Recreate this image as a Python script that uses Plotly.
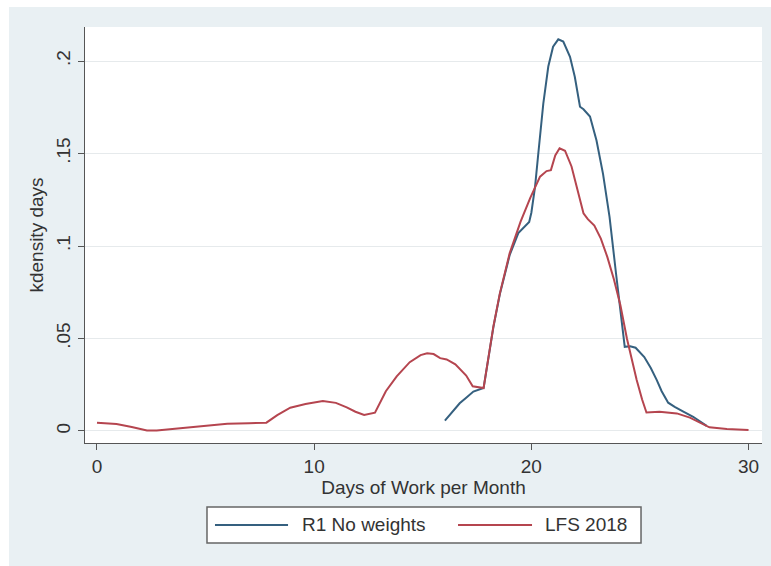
import plotly.graph_objects as go

# Kernel density of days worked per month, two samples
lfs_days = [0, 0.9, 1.6, 2.3, 2.75, 3.4, 4.0, 5.0, 6.0, 7.0, 7.8, 8.3, 8.9, 9.6,
            10.4, 11.0, 11.5, 11.9, 12.3, 12.8, 13.3, 13.8, 14.4, 14.9, 15.2, 15.5,
            15.8, 16.1, 16.5, 17.0, 17.3, 17.8, 18.0, 18.25, 18.55, 19.0, 19.5, 19.95,
            20.4, 20.7, 20.9, 21.1, 21.3, 21.55, 21.85, 22.15, 22.4, 22.6, 22.9, 23.2,
            23.5, 23.8, 24.1, 24.4, 24.85, 25.1, 25.3, 25.9, 26.7, 27.3, 27.8, 28.2,
            29.0, 30.0]
lfs_density = [0.0045, 0.0038, 0.0022, 0.0003, 0.0003, 0.0011, 0.0018, 0.0027, 0.0039,
               0.0042, 0.0045, 0.0086, 0.0126, 0.0146, 0.0162, 0.0152, 0.0128, 0.0104,
               0.0087, 0.0099, 0.0215, 0.0295, 0.0372, 0.0410, 0.0420, 0.0416, 0.0394,
               0.0387, 0.0360, 0.0300, 0.0242, 0.0232, 0.0384, 0.0564, 0.0744, 0.0960,
               0.1130, 0.1260, 0.1375, 0.1405, 0.1410, 0.1490, 0.1528, 0.1515, 0.1430,
               0.1300, 0.1177, 0.1145, 0.1110, 0.1040, 0.0940, 0.0820, 0.0680, 0.0500,
               0.0276, 0.0170, 0.0100, 0.0104, 0.0095, 0.0072, 0.0045, 0.0020, 0.0011,
               0.0005]

r1_days = [16.02, 16.4, 16.7, 17.0, 17.33, 17.8, 18.0, 18.25, 18.55, 19.0, 19.4, 19.8,
           19.9, 20.0, 20.17, 20.32, 20.55, 20.78, 21.0, 21.24, 21.47, 21.78, 22.0,
           22.24, 22.4, 22.7, 23.0, 23.3, 23.6, 23.9, 24.1, 24.3, 24.55, 24.8, 25.2,
           25.5, 25.77, 26.0, 26.3, 26.6, 27.0, 27.45, 28.07]
r1_density = [0.0056, 0.0108, 0.0150, 0.0180, 0.0213, 0.0232, 0.0384, 0.0560, 0.0740,
              0.0950, 0.1070, 0.1114, 0.1130, 0.1180, 0.1320, 0.1500, 0.1770, 0.1970,
              0.2077, 0.2117, 0.2105, 0.2023, 0.1915, 0.1753, 0.1739, 0.1700, 0.1570,
              0.1390, 0.1158, 0.0850, 0.0640, 0.0455, 0.0458, 0.0450, 0.0400, 0.0340,
              0.0276, 0.0215, 0.0153, 0.0130, 0.0105, 0.0077, 0.0028]

series_names = ["R1 No weights", "LFS 2018"]
x_ticks = [0, 10, 20, 30]
y_ticks = [0, 0.05, 0.1, 0.15, 0.2]
y_tick_labels = ["0", ".05", ".1", ".15", ".2"]

BLUE = "#35607f"
RED = "#b5454f"
BG = "#e9f0f3"
INK = "#333333"
FONT = "Liberation Sans, Arial, sans-serif"

fig = go.Figure()
fig.add_trace(go.Scatter(x=r1_days, y=r1_density, mode="lines", name=series_names[0],
                         line=dict(color=BLUE, width=2), showlegend=False))
fig.add_trace(go.Scatter(x=lfs_days, y=lfs_density, mode="lines", name=series_names[1],
                         line=dict(color=RED, width=2), showlegend=False))

# Outer frame: white strips along the top and left of the grey page
shapes = [
    dict(type="rect", xref="paper", yref="paper", x0=-0.2, x1=-0.1123,
         y0=-0.5, y1=1.2, fillcolor="white", line_width=0, layer="below"),
    dict(type="rect", xref="paper", yref="paper", x0=-0.2, x1=1.1,
         y0=1.0481, y1=1.2, fillcolor="white", line_width=0, layer="below"),
]

# Legend box below the x-axis title, with a line key and label per series
legend_y = -0.1971
shapes.append(dict(type="rect", xref="paper", yref="paper", x0=0.1802, x1=0.8213,
                   y0=-0.2404, y1=-0.1538, fillcolor="white",
                   line=dict(color="#666666", width=1.5)))
key_spans = [(0.1920, 0.2999), (0.5510, 0.6603)]
label_x = [0.3176, 0.6765]
annotations = []
for name, color, (k0, k1), lx in zip(series_names, [BLUE, RED], key_spans, label_x):
    shapes.append(dict(type="line", xref="paper", yref="paper", x0=k0, x1=k1,
                       y0=legend_y, y1=legend_y, line=dict(color=color, width=2)))
    annotations.append(dict(xref="paper", yref="paper", x=lx, y=legend_y, text=name,
                            showarrow=False, xanchor="left", yanchor="middle",
                            font=dict(size=19, color=INK)))

fig.update_layout(
    width=771, height=566,
    margin=dict(l=85, r=9, t=27, b=123, pad=0),
    paper_bgcolor=BG, plot_bgcolor="white",
    font=dict(family=FONT, size=19, color=INK),
    showlegend=False,
    shapes=shapes,
    annotations=annotations,
)

fig.update_xaxes(range=[-0.552, 30.62], tickvals=x_ticks, ticks="outside", ticklen=6,
                 tickcolor="#555555", tickwidth=1.2, showline=True, linecolor="#555555",
                 linewidth=1.3, showgrid=False, zeroline=False,
                 tickfont=dict(size=19, color=INK),
                 title=dict(text="Days of Work per Month", standoff=2,
                            font=dict(size=19, color=INK)))
fig.update_yaxes(range=[-0.00649, 0.21838], tickvals=y_ticks, ticktext=y_tick_labels,
                 tickangle=-90, ticks="outside", ticklen=6, tickcolor="#555555",
                 tickwidth=1.2, showline=True, linecolor="#555555", linewidth=1.3,
                 showgrid=True, gridcolor="#e6eaec", gridwidth=1, zeroline=False,
                 tickfont=dict(size=19, color=INK),
                 title=dict(text="kdensity days", standoff=4,
                            font=dict(size=19, color=INK)))

fig.write_html("out.html")
